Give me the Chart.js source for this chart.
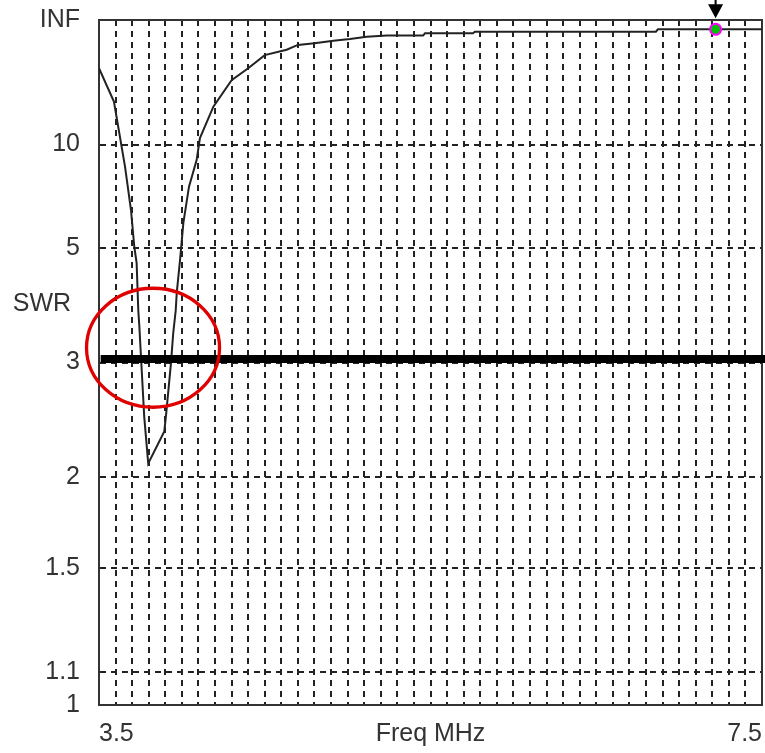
<!DOCTYPE html>
<html lang="en">
<head>
<meta charset="UTF-8">
<title>SWR</title>
<script src="https://cdn.jsdelivr.net/npm/chart.js@4.4.1/dist/chart.umd.min.js"></script>
<style>
  * { margin: 0; padding: 0; }
  body { background: #fff; }
  #wrap { position: relative; width: 765px; height: 753px; }
</style>
</head>
<body>
<div id="wrap"><canvas id="swr"></canvas></div>
<script>
// sweep (MHz / SWR)
const freqMHz = [3.50, 3.59, 3.657, 3.693, 3.713, 3.727, 3.737, 3.743, 3.773, 3.797,
  3.894, 3.906, 3.934, 3.948, 3.963, 3.969, 3.989, 4.009, 4.043, 4.089,
  4.109, 4.19, 4.30, 4.40, 4.50, 4.632, 4.70, 4.80, 4.914, 5.014,
  5.115, 5.236, 5.455, 5.467, 5.756, 5.768, 6.86, 6.872, 7.50];
const swrValues = [27.4, 15.8, 8.34, 6.21, 5.04, 4.64, 3.72, 3.49, 2.45, 2.09,
  2.33, 2.49, 2.99, 3.38, 3.72, 4.02, 4.71, 5.75, 7.22, 8.78,
  10.6, 14.8, 21.8, 27.4, 38, 45, 54, 58, 65, 71,
  81, 87, 87, 102, 102, 116, 116, 146, 146];

const swrTicks = [1, 1.1, 1.5, 2, 3, 5, 10, Infinity];
const swrTickLabels = ['1', '1.1', '1.5', '2', '3', '5', '10', 'INF'];
const freqTickValues = [3.5, 5.5, 7.5];
const freqTickLabels = ['3.5', 'Freq MHz', '7.5'];

const markerFreq = [7.22];
const markerSwr = [146];
const limitFreq = [3.51, 7.52];
const limitSwr = [3.04, 3.04];
const circleFreq = 3.826;
const circleSwr = 3.18;

const TXT = '#333';

// SWR axis is linear in reflection coefficient
function gamma(s) {
  return s === Infinity ? 1 : (s - 1) / (s + 1);
}

// fixed box sizes, no label overhang padding
function fixBox(w, h) {
  return function (s) {
    if (w !== null) s.width = w;
    if (h !== null) s.height = h;
    s.paddingTop = 0;
    s.paddingBottom = 0;
    s.paddingLeft = 0;
    s.paddingRight = 0;
  };
}

Chart.defaults.font.family = "'Liberation Sans', Arial, sans-serif";
Chart.defaults.font.size = 25;
Chart.defaults.color = TXT;

const annotations = {
  id: 'annotations',
  afterDatasetsDraw(chart) {
    const { ctx, scales: { x, y } } = chart;
    ctx.save();
    // red ring around the dip
    const cx = x.getPixelForValue(circleFreq);
    const cy = y.getPixelForValue(gamma(circleSwr));
    ctx.strokeStyle = '#e00000';
    ctx.lineWidth = 3.3;
    ctx.beginPath();
    ctx.ellipse(cx, cy, 66.5, 59.5, 0, 0, Math.PI * 2);
    ctx.stroke();
    // arrow over the marker
    const mx = x.getPixelForValue(markerFreq[0]);
    const my = y.getPixelForValue(gamma(markerSwr[0]));
    ctx.fillStyle = '#000';
    ctx.fillRect(mx - 1, 0, 2, my - 24);
    ctx.beginPath();
    ctx.moveTo(mx - 7.5, my - 25);
    ctx.lineTo(mx + 7.5, my - 25);
    ctx.lineTo(mx, my - 11);
    ctx.closePath();
    ctx.fill();
    // axis name
    ctx.fillStyle = TXT;
    ctx.font = Chart.defaults.font.size + 'px ' + Chart.defaults.font.family;
    ctx.textAlign = 'center';
    ctx.textBaseline = 'middle';
    ctx.fillText('SWR', 42, 304);
    ctx.restore();
  }
};

new Chart(document.getElementById('swr'), {
  type: 'line',
  data: {
    datasets: [
      {
        label: 'limit',
        data: limitFreq.map((f, i) => ({ x: f, y: gamma(limitSwr[i]) })),
        borderColor: '#000',
        borderWidth: 8,
        pointRadius: 0,
        clip: false,
        order: 1
      },
      {
        label: 'marker',
        data: markerFreq.map((f, i) => ({ x: f, y: gamma(markerSwr[i]) })),
        showLine: false,
        pointRadius: 5.5,
        pointBackgroundColor: '#00c000',
        pointBorderColor: '#ff00ff',
        pointBorderWidth: 2,
        clip: false,
        order: 2
      },
      {
        label: 'SWR',
        data: freqMHz.map((f, i) => ({ x: f, y: gamma(swrValues[i]) })),
        borderColor: '#222',
        borderWidth: 2,
        pointRadius: 0,
        tension: 0,
        order: 3
      }
    ]
  },
  options: {
    responsive: true,
    maintainAspectRatio: false,
    animation: false,
    layout: { autoPadding: false, padding: { top: 20, right: 3, left: 0, bottom: 0 } },
    plugins: { legend: { display: false }, tooltip: { enabled: false } },
    scales: {
      x: {
        type: 'linear',
        min: 3.5,
        max: 7.5,
        afterFit: fixBox(null, 48),
        border: { color: '#333', width: 2, dash: [6, 5] },
        grid: { color: '#222', lineWidth: 2, drawTicks: false },
        ticks: {
          stepSize: 0.1,
          autoSkip: false,
          maxRotation: 0,
          align: 'inner',
          padding: 14,
          callback(v) {
            const k = freqTickValues.findIndex(t => Math.abs(t - v) < 1e-6);
            return k < 0 ? '' : freqTickLabels[k];
          }
        }
      },
      y: {
        type: 'linear',
        min: 0,
        max: 1,
        afterFit: fixBox(99, null),
        afterBuildTicks(s) { s.ticks = swrTicks.map(v => ({ value: gamma(v) })); },
        border: { color: '#333', width: 2, dash: [6, 5] },
        grid: { color: '#222', lineWidth: 2, drawTicks: false },
        ticks: {
          autoSkip: false,
          padding: 19,
          callback(v, i) { return swrTickLabels[i]; }
        }
      },
      x2: {
        type: 'linear',
        position: 'top',
        min: 3.5,
        max: 7.5,
        afterFit: fixBox(null, 0),
        border: { color: '#333', width: 2 },
        grid: { display: false, drawTicks: false },
        ticks: { display: false }
      },
      y2: {
        type: 'linear',
        position: 'right',
        min: 0,
        max: 1,
        afterFit: fixBox(0, null),
        border: { color: '#333', width: 2 },
        grid: { display: false, drawTicks: false },
        ticks: { display: false }
      }
    }
  },
  plugins: [annotations]
});
</script>
</body>
</html>
